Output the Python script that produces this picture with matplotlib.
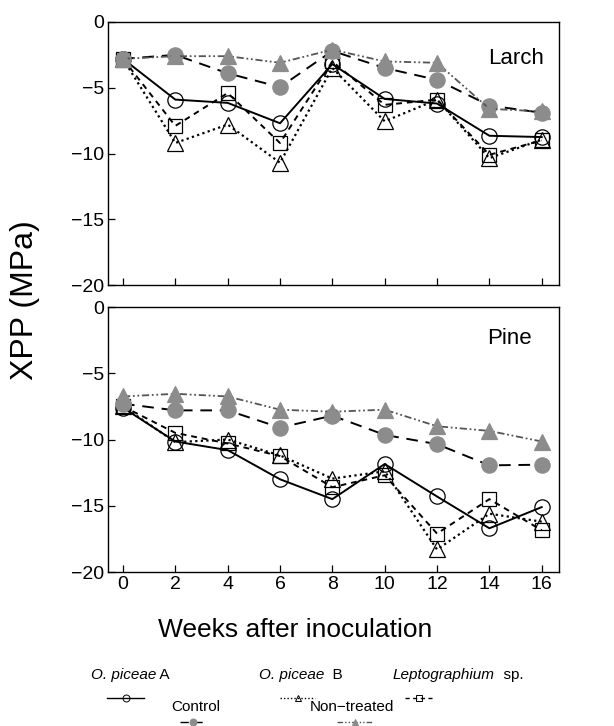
import matplotlib
matplotlib.use("Agg")
import matplotlib.pyplot as plt
from matplotlib.lines import Line2D

plt.rcParams['font.family'] = ['Liberation Sans', 'DejaVu Sans']

weeks = [0, 2, 4, 6, 8, 10, 12, 14, 16]

# Larch, XPP (MPa)
larch_a = [-2.8, -5.9, -6.15, -7.7, -3.2, -5.85, -6.2, -8.65, -8.75]
larch_b = [-2.8, -9.2, -7.8, -10.7, -3.5, -7.55, -5.9, -10.35, -8.95]
larch_lep = [-2.8, -7.9, -5.4, -9.2, -3.0, -6.3, -5.9, -10.1, -9.0]
larch_ctrl = [-2.8, -2.5, -3.9, -4.95, -2.2, -3.5, -4.4, -6.35, -6.9]
larch_non = [-2.8, -2.6, -2.6, -3.1, -2.1, -3.0, -3.1, -6.6, -6.8]

# Pine, XPP (MPa)
pine_a = [-7.6, -10.15, -10.8, -13.0, -14.5, -11.85, -14.3, -16.7, -15.1]
pine_b = [-7.5, -10.2, -10.0, -11.2, -12.95, -12.4, -18.3, -15.6, -16.2]
pine_lep = [-7.5, -9.5, -10.3, -11.25, -13.6, -12.7, -17.1, -14.5, -16.85]
pine_ctrl = [-7.3, -7.8, -7.8, -9.1, -8.2, -9.65, -10.35, -11.95, -11.9]
pine_non = [-6.75, -6.55, -6.75, -7.75, -7.9, -7.75, -9.0, -9.35, -10.15]

yticks = [0, -5, -10, -15, -20]
grey = '#8c8c8c'

styles = {
    'a': dict(color='k', ls='-', lw=1.4, marker='o', ms=11, mfc='none', mec='k', mew=0.9),
    'b': dict(color='k', ls=(0, (1, 1.5)), lw=1.6, marker='^', ms=11, mfc='none', mec='k', mew=0.9),
    'lep': dict(color='k', ls=(0, (3, 2.5)), lw=1.4, marker='s', ms=10, mfc='none', mec='k', mew=0.9),
    'ctrl': dict(color='k', ls=(0, (6, 4)), lw=1.4, marker='o', ms=11, mfc=grey, mec=grey, mew=0.9),
    'non': dict(color='#555555', ls=(0, (4, 1.5, 1, 1.5, 1, 1.5)), lw=1.3, marker='^', ms=12,
                mfc=grey, mec=grey, mew=0.9),
}

fig = plt.figure(figsize=(6.14, 7.26), dpi=100)
ax1 = fig.add_axes([0.176, 0.6074, 0.734, 0.3623])
ax2 = fig.add_axes([0.176, 0.2121, 0.734, 0.365])

panels = [
    (ax1, 'Larch', [larch_a, larch_b, larch_lep, larch_ctrl, larch_non], (0.905, 0.86)),
    (ax2, 'Pine', [pine_a, pine_b, pine_lep, pine_ctrl, pine_non], (0.89, 0.88)),
]
for ax, name, series, pos in panels:
    for key, vals in zip(['a', 'b', 'lep', 'ctrl', 'non'], series):
        ax.plot(weeks, vals, **styles[key])
    ax.set_xlim(-0.57, 16.65)
    ax.set_ylim(-20, 0)
    ax.set_xticks(weeks)
    ax.set_yticks(yticks)
    ax.tick_params(direction='in', length=5, width=0.9, labelsize=14, pad=3, top=False, right=False)
    ax.text(pos[0], pos[1], name, transform=ax.transAxes, ha='center', va='center', fontsize=16)
    for s in ax.spines.values():
        s.set_linewidth(1.0)
ax1.set_xticklabels([])
fig.text(295 / 614, 1 - 630 / 726, 'Weeks after inoculation', ha='center', va='center', fontsize=19)
fig.text(0.041, 0.587, 'XPP (MPa)', rotation=90, ha='center', va='center', fontsize=23)

# custom legend below the chart
W, H = 614.0, 726.0
legend_items = [
    # (italic part, normal part, text center x, text y, handle x0, handle x1, handle y, style)
    ('O. piceae', ' A', 130, 675, 107, 144, 698, 'a'),
    ('O. piceae', '  B', 301, 675, 280, 315, 698, 'b'),
    ('Leptographium', '  sp.', 458, 675, 405, 432, 698, 'lep'),
    ('', 'Control', 196, 707, 180, 206, 722, 'ctrl'),
    ('', 'Non\u2212treated', 352, 707, 337, 373, 722, 'non'),
]
for ital, norm, cx, ty, hx0, hx1, hy, key in legend_items:
    if ital:
        t1 = fig.text(0, 1 - ty / H, ital, style='italic', fontsize=11, va='center', ha='left')
        t2 = fig.text(0, 1 - ty / H, norm, fontsize=11, va='center', ha='left')
        r = fig.canvas.get_renderer()
        w1 = t1.get_window_extent(r).width
        w2 = t2.get_window_extent(r).width
        x0 = cx - (w1 + w2) / 2
        t1.set_x(x0 / W)
        t2.set_x((x0 + w1) / W)
    else:
        fig.text(cx / W, 1 - ty / H, norm, fontsize=11, va='center', ha='center')
    st = dict(styles[key])
    st['ms'] = 5
    st['lw'] = 1.0
    st['mew'] = 0.7
    fig.add_artist(Line2D([hx0 / W, (hx0 + hx1) / 2 / W, hx1 / W], [1 - hy / H] * 3,
                          transform=fig.transFigure, markevery=[1], **st))

fig.savefig('out.png', dpi=100)
